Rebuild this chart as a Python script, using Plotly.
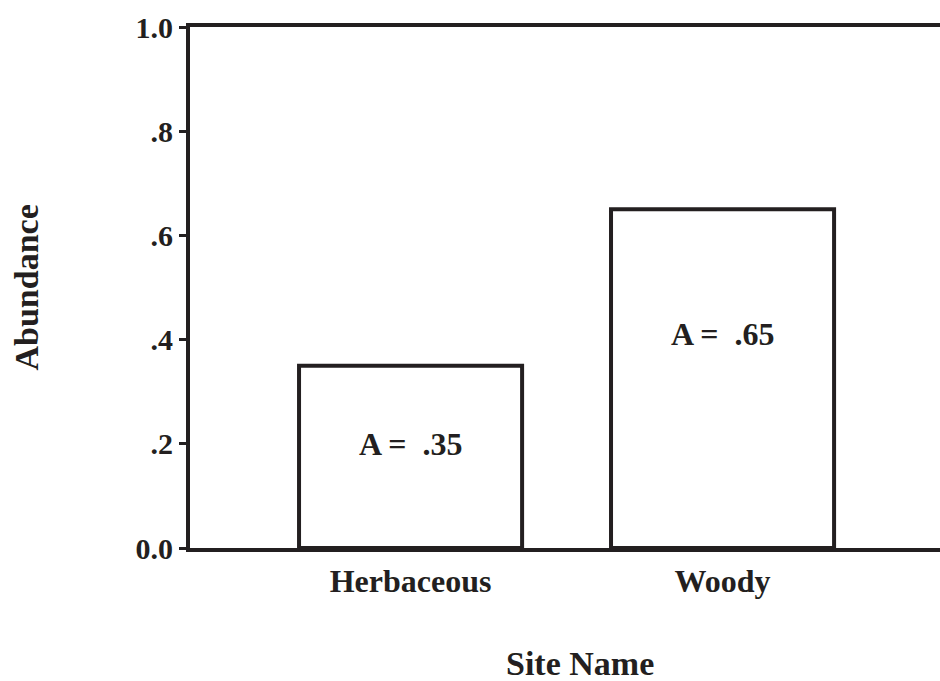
import plotly.graph_objects as go

categories = ["Herbaceous", "Woody"]
abundance = [0.35, 0.65]
bar_labels = ["A =\u00a0 .35", "A =\u00a0 .65"]
label_y = [0.2, 0.41]
tick_vals = [0.0, 0.2, 0.4, 0.6, 0.8, 1.0]
tick_text = ["0.0", ".2", ".4", ".6", ".8", "1.0"]

ink = "#231f20"
font = "Liberation Serif"

fig = go.Figure()
fig.add_trace(go.Bar(
    x=categories, y=abundance, width=0.715,
    marker=dict(color="white", line=dict(color=ink, width=4)),
    showlegend=False, hoverinfo="skip",
))

for c, t, yy in zip(categories, bar_labels, label_y):
    fig.add_annotation(x=c, y=yy, text="<b>%s</b>" % t, showarrow=False,
                       xanchor="center", yanchor="middle",
                       font=dict(family=font, size=32, color=ink))

fig.add_annotation(xref="paper", yref="paper", x=(580 - 190) / 750, y=(548 - 663) / 521,
                   xanchor="center", yanchor="middle",
                   text="<b>Site Name</b>", showarrow=False,
                   font=dict(family=font, size=34, color=ink))
fig.add_annotation(xref="paper", yref="paper", x=(26 - 190) / 750, y=0.5,
                   xanchor="center", yanchor="middle",
                   text="<b>Abundance</b>", showarrow=False, textangle=-90,
                   font=dict(family=font, size=34, color=ink))

fig.update_layout(
    width=940, height=681,
    margin=dict(l=190, r=0, t=27, b=133),
    paper_bgcolor="white", plot_bgcolor="white",
    font=dict(family=font, color=ink),
    xaxis=dict(
        range=[-0.707, 1.697], showline=True, linecolor=ink, linewidth=4,
        mirror=True, showgrid=False, zeroline=False, ticks="",
        tickfont=dict(family=font, size=32, color=ink),
        ticklabelstandoff=2,
        tickvals=categories, ticktext=["<b>%s</b>" % c for c in categories],
    ),
    yaxis=dict(
        range=[0, 1.0], showline=True, linecolor=ink, linewidth=4,
        showgrid=False, zeroline=False,
        ticks="outside", ticklen=7, tickwidth=3, tickcolor=ink,
        tickvals=tick_vals, ticktext=["<b>%s</b>" % t for t in tick_text],
        tickfont=dict(family=font, size=30, color=ink),
        ticklabelstandoff=0,
    ),
)

fig.write_html("out.html", config={"displayModeBar": False},
               post_script="document.body.style.margin='0';document.body.style.overflow='hidden';")
